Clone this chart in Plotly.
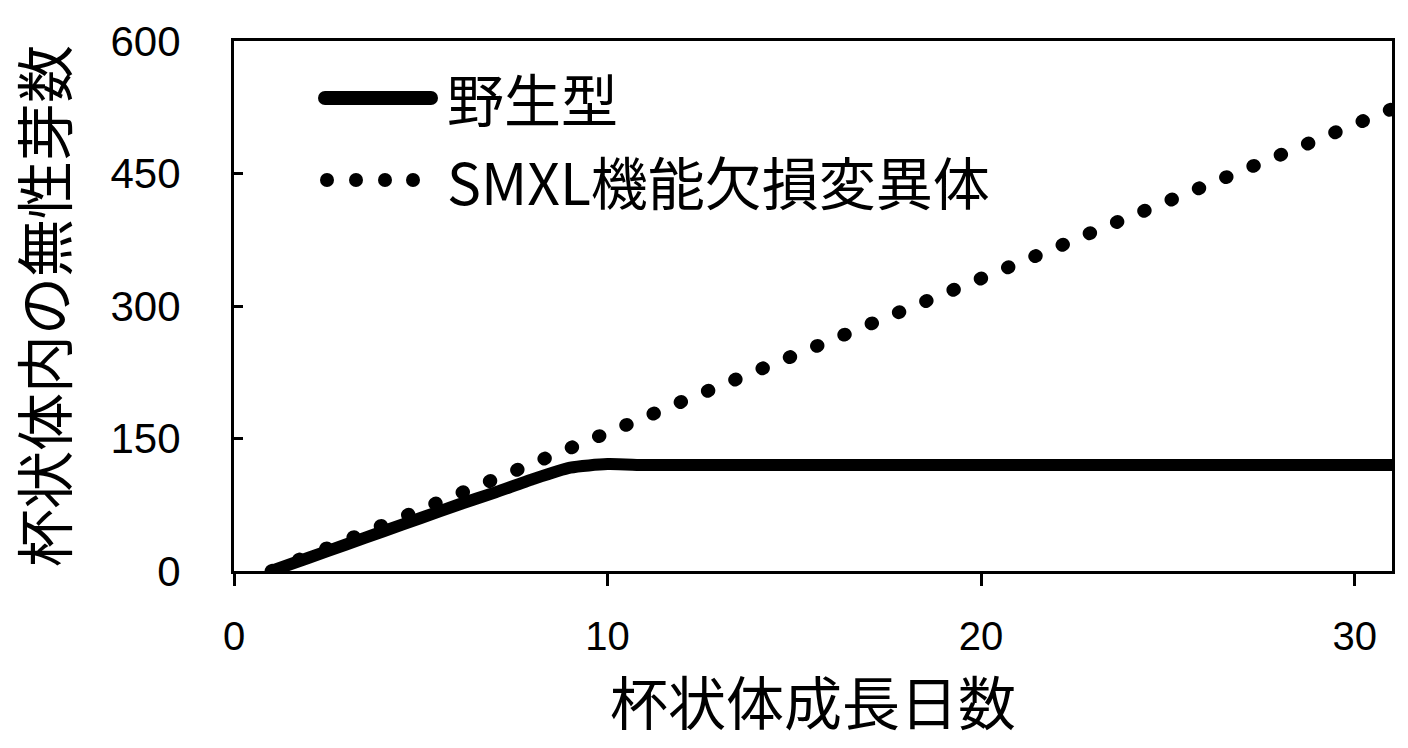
import plotly.graph_objects as go

# ---- data ----
days = list(range(1, 32))
wild_type = [0, 15, 30, 45, 60, 75, 89, 104, 117, 121, 120, 120, 120, 120, 120, 120,
             120, 120, 120, 120, 120, 120, 120, 120, 120, 120, 120, 120, 120, 120, 120]
smxl_mutant = [0, 17, 35, 52, 70, 87, 105, 122, 140, 157, 174, 192, 209, 227, 244, 262,
               279, 296, 314, 331, 349, 366, 384, 401, 418, 436, 453, 471, 488, 506, 523]
x_ticks = [0, 10, 20, 30]
y_ticks = [0, 150, 300, 450, 600]
legend_names = ["野生型", "SMXL機能欠損変異体"]
x_title = "杯状体成長日数"
y_title = "杯状体内の無性芽数"

W, H = 1408, 748
L, R, T, B = 234, 16, 41, 177
PW, PH = W - L - R, H - T - B

def px(x):
    return (x - L) / PW

def py(y):
    return (H - B - y) / PH

CJK = "Noto Sans CJK JP"

fig = go.Figure()
fig.add_trace(go.Scatter(x=days, y=wild_type, mode="lines", name=legend_names[0],
                         line=dict(color="black", width=12, shape="spline", smoothing=0.6),
                         showlegend=False))
fig.add_trace(go.Scatter(x=days, y=smxl_mutant, mode="lines", name=legend_names[1],
                         line=dict(color="black", width=13.5, dash="1px,28.5px"),
                         showlegend=False))

# manual legend
shapes = [dict(type="line", xref="paper", yref="paper",
               x0=px(325), x1=px(431), y0=py(98), y1=py(98),
               line=dict(color="black", width=14))]
r = 7
for cx in [327, 356, 385, 413]:
    shapes.append(dict(type="circle", xref="paper", yref="paper",
                       x0=px(cx - r), x1=px(cx + r), y0=py(180 + r), y1=py(180 - r),
                       fillcolor="black", line=dict(width=0)))
annotations = [
    dict(text=legend_names[0], xref="paper", yref="paper", x=px(445), y=py(97),
         xanchor="left", yanchor="middle", showarrow=False,
         font=dict(family=CJK, size=57, color="black")),
    dict(text=legend_names[1], xref="paper", yref="paper", x=px(445), y=py(180),
         xanchor="left", yanchor="middle", showarrow=False,
         font=dict(family=CJK, size=57, color="black")),
]

fig.update_layout(
    width=W, height=H,
    margin=dict(l=L, r=R, t=T, b=B, pad=0),
    paper_bgcolor="white", plot_bgcolor="white",
    shapes=shapes, annotations=annotations,
    xaxis=dict(range=[0, 31], tickvals=x_ticks, ticks="outside", ticklen=12, tickwidth=3,
               tickcolor="black", showline=True, linecolor="black", linewidth=3, mirror=True,
               showgrid=False, zeroline=False, ticklabelstandoff=16,
               tickfont=dict(family="Liberation Sans", size=40, color="black"),
               title=dict(text=x_title, standoff=28,
                          font=dict(family=CJK, size=58, color="black"))),
    yaxis=dict(range=[0, 600], tickvals=y_ticks, ticks="inside", ticklen=9, tickwidth=3,
               tickcolor="black", showline=True, linecolor="black", linewidth=3, mirror=True,
               showgrid=False, zeroline=False, ticklabelstandoff=42,
               tickfont=dict(family="Liberation Sans", size=42, color="black"),
               title=dict(text=y_title, standoff=34,
                          font=dict(family=CJK, size=58, color="black"))),
)

post = """
var gd = document.getElementById('{plot_id}');
function fixCaps(){
  var traces = gd.querySelectorAll('.scatterlayer .trace');
  if (traces.length > 1) {
    traces[1].querySelectorAll('path.js-line').forEach(function(p){
      p.style.strokeLinecap = 'round';
    });
  }
  gd.querySelectorAll('.shapelayer path').forEach(function(p){
    p.style.strokeLinecap = 'round';
  });
}
fixCaps();
setTimeout(fixCaps, 50);
setTimeout(fixCaps, 300);
if (gd.on) { gd.on('plotly_afterplot', fixCaps); }
"""
fig.write_html("out.html", post_script=post)
